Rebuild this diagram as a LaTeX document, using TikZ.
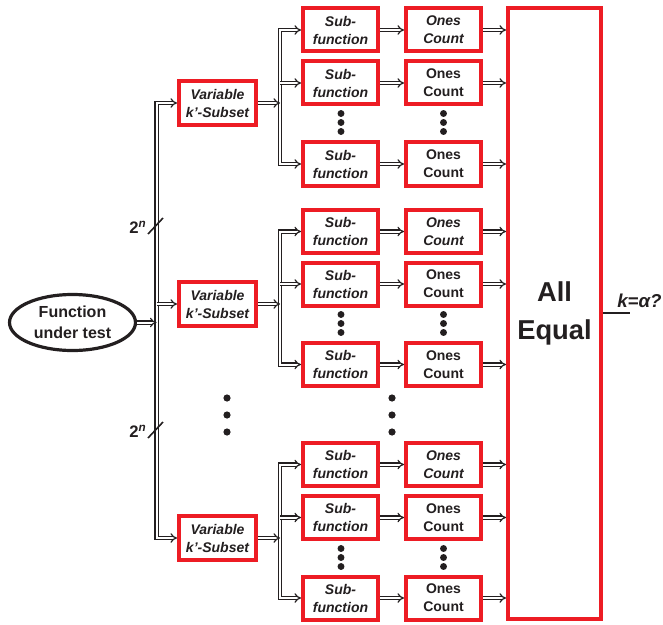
\documentclass[tikz,border=0pt]{standalone}
\usepackage{fontspec}
\setmainfont{Liberation Sans}
\usetikzlibrary{arrows.meta,shapes.geometric}
\definecolor{boxred}{RGB}{237,28,36}
\definecolor{ink}{RGB}{35,31,32}
\begin{document}
\begin{tikzpicture}[x=0.75pt,y=-0.75pt,
  redbox/.style={draw=boxred,line width=3pt,inner sep=0pt,align=center,fill=white,text=ink},
  bi/.style={font=\bfseries\itshape\fontsize{10.5}{13.5}\selectfont},
  bu/.style={font=\bfseries\fontsize{10.5}{13.5}\selectfont},
  subbox/.style={redbox,bi,minimum width=56.25pt,minimum height=32.25pt},
  onesbox/.style={redbox,minimum width=56.25pt,minimum height=32.25pt},
  varbox/.style={redbox,bi,minimum width=57.75pt,minimum height=33pt},
  dbl/.style={double,double distance=1.5pt,line width=0.9pt,draw=ink},
  dbla/.style={dbl,-{Implies[length=5pt,width=10.5pt]}},
]
\useasboundingbox (0,0) rectangle (663,624);

% main nodes
\node[ellipse,draw=ink,line width=2.4pt,minimum width=94.5pt,minimum height=42pt,inner sep=0pt,align=center,text=ink,
  font=\bfseries\fontsize{12}{15.5}\selectfont] (fut) at (72.5,322.5) {Function\\under test};

\node[varbox] (v1) at (217.5,103) {Variable\\k'-Subset};
\node[varbox] (v2) at (217.5,304) {Variable\\k'-Subset};
\node[varbox] (v3) at (217.5,538) {Variable\\k'-Subset};

\node[redbox,minimum width=69.75pt,minimum height=458.25pt,
  font=\bfseries\fontsize{20.5}{28}\selectfont] (ae) at (554.5,313.5) {All\\Equal};

% group 1
\node[subbox] (s11) at (340.5,30) {Sub-\\function};
\node[subbox] (s12) at (340.5,83) {Sub-\\function};
\node[subbox] (s13) at (340.5,164) {Sub-\\function};
\node[onesbox,bi] (o11) at (443.5,30) {Ones\\Count};
\node[onesbox,bu] (o12) at (443.5,83) {Ones\\Count};
\node[onesbox,bu] (o13) at (443.5,164) {Ones\\Count};
% group 2
\node[subbox] (s21) at (340.5,231.5) {Sub-\\function};
\node[subbox] (s22) at (340.5,284) {Sub-\\function};
\node[subbox] (s23) at (340.5,364.5) {Sub-\\function};
\node[onesbox,bi] (o21) at (443.5,231.5) {Ones\\Count};
\node[onesbox,bu] (o22) at (443.5,284) {Ones\\Count};
\node[onesbox,bu] (o23) at (443.5,364.5) {Ones\\Count};
% group 3
\node[subbox] (s31) at (340.5,464.5) {Sub-\\function};
\node[subbox] (s32) at (340.5,517.5) {Sub-\\function};
\node[subbox] (s33) at (340.5,598) {Sub-\\function};
\node[onesbox,bi] (o31) at (443.5,464.5) {Ones\\Count};
\node[onesbox,bu] (o32) at (443.5,517.5) {Ones\\Count};
\node[onesbox,bu] (o33) at (443.5,598) {Ones\\Count};

% main bus
\coordinate (bm) at (156.5,322.5);
\coordinate (b2) at (156.5,304);
\draw[dbla] (bm) |- (v1.west);
\draw[dbla] (bm) |- (v3.west);
\draw[dbla] (b2) -- (v2.west);
\draw[dbla] (fut.east) -- (bm);

% group buses
\coordinate (g1) at (280,103);
\coordinate (g2) at (280,304);
\coordinate (g3) at (280,538);
\draw[dbla] (g1) |- (s11.west);
\draw[dbla] (g1) |- (s13.west);
\draw[dbla] (g1 |- s12.west) -- (s12.west);
\draw[dbla] (v1.east) -- (g1);
\draw[dbla] (g2) |- (s21.west);
\draw[dbla] (g2) |- (s23.west);
\draw[dbla] (g2 |- s22.west) -- (s22.west);
\draw[dbla] (v2.east) -- (g2);
\draw[dbla] (g3) |- (s31.west);
\draw[dbla] (g3) |- (s33.west);
\draw[dbla] (g3 |- s32.west) -- (s32.west);
\draw[dbla] (v3.east) -- (g3);

% sub -> ones -> all equal
\foreach \g in {1,2,3}{
  \foreach \r in {1,2,3}{
    \draw[dbla] (s\g\r.east) -- (o\g\r.west);
    \draw[dbla] (o\g\r.east) -- (o\g\r.east -| ae.west);
  }
}

% output
\coordinate (out) at (630,313);
\draw[ink,line width=1.2pt] (ae.east |- out) -- (out);
\node[anchor=south west,inner sep=0pt,text=ink,font=\bfseries\itshape\fontsize{14}{16}\selectfont] (klab) at (617,307.5) {k=α?};

% 2^n labels and slashes
\node[text=ink,font=\bfseries\fontsize{12.5}{14}\selectfont,inner sep=0pt] (n1) at (138,227) {2\textsuperscript{\itshape n}};
\node[text=ink,font=\bfseries\fontsize{12.5}{14}\selectfont,inner sep=0pt] (n2) at (138,431) {2\textsuperscript{\itshape n}};
\draw[ink,line width=1.2pt] (148,234) -- (163,218);
\draw[ink,line width=1.2pt] (148,438) -- (163,422);

% dots
\foreach \y in {398,415,432}{
  \fill[ink] (227,\y) circle[radius=2.7pt];
  \fill[ink] (392,\y) circle[radius=2.7pt];
}
\foreach \m in {122.5,323.5,557.5}{
  \foreach \d in {-9,0,9}{
    \fill[ink] (341,\m+\d) circle[radius=2.6pt];
    \fill[ink] (443.5,\m+\d) circle[radius=2.6pt];
  }
}
\end{tikzpicture}
\end{document}
